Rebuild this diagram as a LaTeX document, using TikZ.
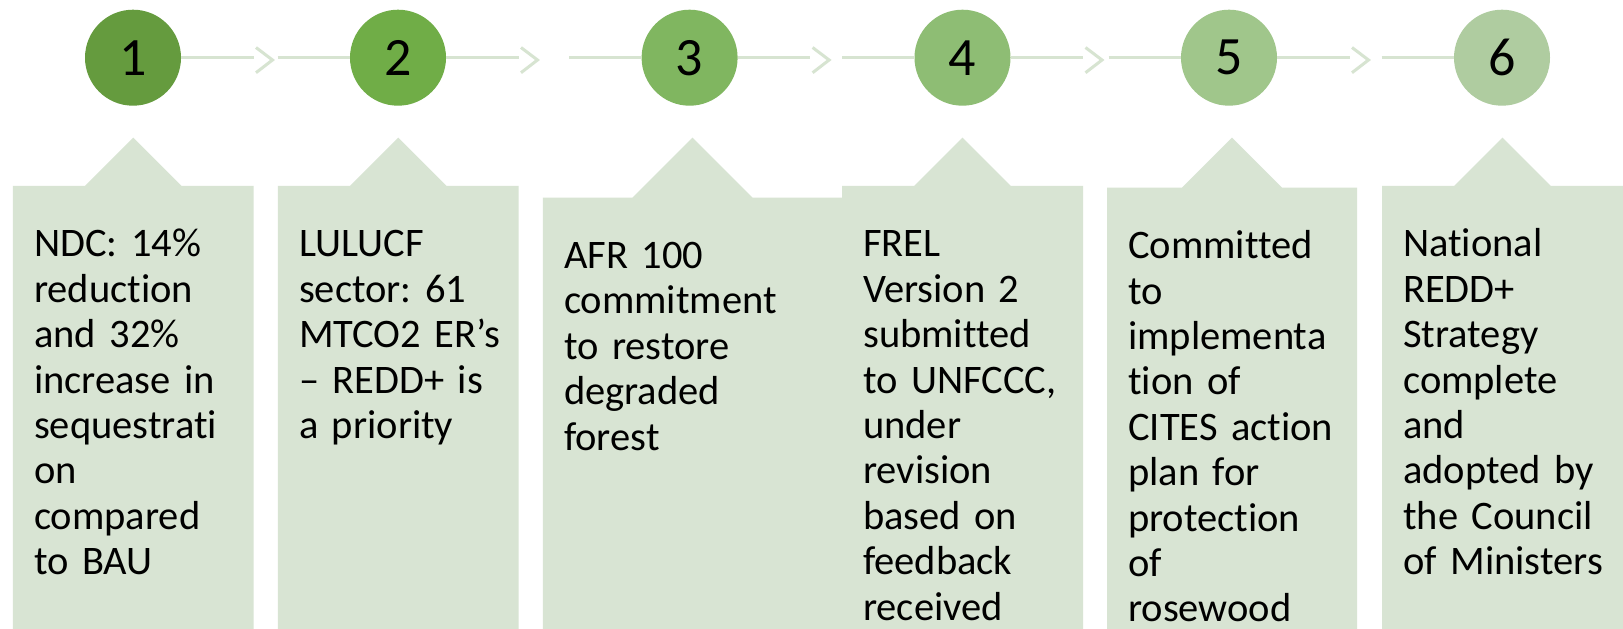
\documentclass[tikz,border=0pt]{standalone}
\usepackage{fontspec}
\setmainfont{Carlito}[Ligatures={NoCommon}]
\usetikzlibrary{calc}
\definecolor{cA}{HTML}{659B3E}
\definecolor{cB}{HTML}{70AD47}
\definecolor{cC}{HTML}{80B660}
\definecolor{cD}{HTML}{8EBD74}
\definecolor{cE}{HTML}{A0C68B}
\definecolor{cF}{HTML}{AFCCA0}
\definecolor{boxgreen}{HTML}{D8E4D3}
\definecolor{linegreen}{HTML}{D7E4D1}
\tikzset{
  stepcircle/.style={circle,minimum size=96pt,inner sep=0pt,font={\fontsize{54}{60}\selectfont}},
  boxfill/.style={fill=boxgreen},
  boxtext/.style={anchor=north west,inner sep=0pt,align=left,text width=240pt,font={\fontsize{40.5}{45.4}\selectfont\frenchspacing}},
  link/.style={draw=linegreen,line width=3pt},
  chevline/.style={draw=linegreen,line width=3pt,line join=miter}
}
\newcommand\callbox[4]{%
  \pgfmathsetmacro\cbw{#2-#1}%
  \pgfmathsetmacro\cbm{(#1+#2)/2}%
  \pgfmathsetmacro\cbh{0.2*\cbw}%
  \pgfmathsetmacro\cbt{137.7+\cbh}%
  \fill[boxfill] (#1,629) -- (#1,\cbt) -- (\cbm-\cbh,\cbt) -- (\cbm,137.7) -- (\cbm+\cbh,\cbt) -- (#2,\cbt) -- (#2,629) -- cycle;
  \node[boxtext] (#3) at (#1+21,\cbt+39) {\strut #4};%
}
\newcommand\chevat[1]{%
  \draw[chevline] ($(#1)+(2.5,-10.2)$) -- ($(#1)+(19,2.3)$) -- ($(#1)+(2.5,15)$);%
}
\begin{document}
\begin{tikzpicture}[x=1pt,y=-1pt]
\useasboundingbox (0,0) rectangle (1623,629);
\fill[white] (0,0) rectangle (1623,629);
% callout boxes
\callbox{12.9}{253.6}{t1}{NDC: 14\%\\reduction\\and 32\%\\increase in\\sequestrati\\on\\compared\\to BAU}
\callbox{277.9}{518.6}{t2}{LULUCF\\sector: 61\\MTCO2 ER’s\\– REDD+ is\\a priority}
\callbox{542.9}{842}{t3}{AFR 100\\commitment\\to restore\\degraded\\forest}
\callbox{842}{1083}{t4}{FREL\\Version 2\\submitted\\to UNFCCC,\\under\\revision\\based on\\feedback\\received}
\callbox{1107}{1357}{t5}{Committed\\to\\implementa\\tion of\\CITES action\\plan for\\protection\\of\\rosewood}
\callbox{1382}{1623}{t6}{National\\REDD+\\Strategy\\complete\\and\\adopted by\\the Council\\of Ministers}
% circles
\node[stepcircle,fill=cA] (c1) at (133,57.7) {1};
\node[stepcircle,fill=cB] (c2) at (398,57.7) {2};
\node[stepcircle,fill=cC] (c3) at (689.6,57.7) {3};
\node[stepcircle,fill=cD] (c4) at (962.5,57.7) {4};
\node[stepcircle,fill=cE] (c5) at (1229,57.7) {5};
\node[stepcircle,fill=cF] (c6) at (1502,57.7) {6};
% line ends
\coordinate (e1) at (253.5,57.7);
\coordinate (e2) at (518.5,57.7);
\coordinate (e3) at (810.1,57.7);
\coordinate (e4) at (1083,57.7);
\coordinate (e5) at (1349.5,57.7);
\coordinate (s2) at (277.5,57.7);
\coordinate (s3) at (569.1,57.7);
\coordinate (s4) at (842,57.7);
\coordinate (s5) at (1108.5,57.7);
\coordinate (s6) at (1381.5,57.7);
% connectors
\draw[link] (c1) -- (e1);
\draw[link] (s2) -- (c2);
\draw[link] (c2) -- (e2);
\draw[link] (s3) -- (c3);
\draw[link] (c3) -- (e3);
\draw[link] (s4) -- (c4);
\draw[link] (c4) -- (e4);
\draw[link] (s5) -- (c5);
\draw[link] (c5) -- (e5);
\draw[link] (s6) -- (c6);
\chevat{e1}
\chevat{e2}
\chevat{e3}
\chevat{e4}
\chevat{e5}
\end{tikzpicture}
\end{document}
